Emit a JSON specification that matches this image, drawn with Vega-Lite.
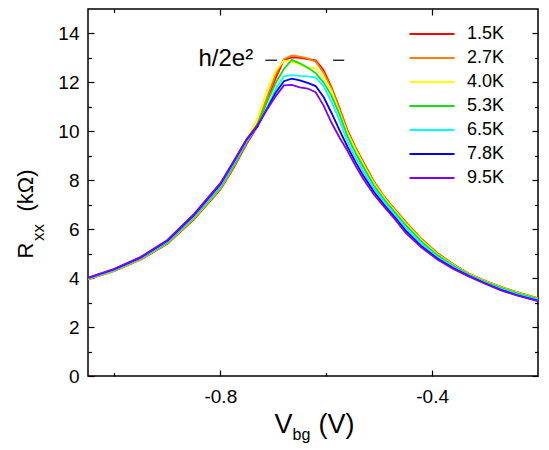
{
  "$schema": "https://vega.github.io/schema/vega-lite/v6.json",
  "width": 450,
  "height": 367,
  "autosize": {"type": "none"},
  "padding": {"left": 88, "top": 9, "right": 11, "bottom": 74},
  "background": "white",
  "data": {
    "values": [
      {"V": -1.05, "R": 3.95, "T": "1.5K"}, {"V": -1.0, "R": 4.30, "T": "1.5K"}, {"V": -0.95, "R": 4.76, "T": "1.5K"}, {"V": -0.9, "R": 5.40, "T": "1.5K"},
      {"V": -0.85, "R": 6.40, "T": "1.5K"}, {"V": -0.8, "R": 7.62, "T": "1.5K"}, {"V": -0.775, "R": 8.50, "T": "1.5K"}, {"V": -0.75, "R": 9.50, "T": "1.5K"},
      {"V": -0.73, "R": 10.20, "T": "1.5K"}, {"V": -0.71, "R": 11.35, "T": "1.5K"}, {"V": -0.695, "R": 12.20, "T": "1.5K"}, {"V": -0.68, "R": 12.92, "T": "1.5K"},
      {"V": -0.665, "R": 13.02, "T": "1.5K"}, {"V": -0.65, "R": 13.00, "T": "1.5K"}, {"V": -0.635, "R": 12.95, "T": "1.5K"}, {"V": -0.62, "R": 12.90, "T": "1.5K"},
      {"V": -0.605, "R": 12.50, "T": "1.5K"}, {"V": -0.59, "R": 11.80, "T": "1.5K"}, {"V": -0.575, "R": 10.95, "T": "1.5K"}, {"V": -0.56, "R": 10.05, "T": "1.5K"},
      {"V": -0.545, "R": 9.35, "T": "1.5K"}, {"V": -0.53, "R": 8.75, "T": "1.5K"}, {"V": -0.51, "R": 7.95, "T": "1.5K"}, {"V": -0.49, "R": 7.32, "T": "1.5K"},
      {"V": -0.47, "R": 6.80, "T": "1.5K"}, {"V": -0.45, "R": 6.30, "T": "1.5K"}, {"V": -0.42, "R": 5.60, "T": "1.5K"}, {"V": -0.39, "R": 5.02, "T": "1.5K"},
      {"V": -0.36, "R": 4.57, "T": "1.5K"}, {"V": -0.33, "R": 4.18, "T": "1.5K"}, {"V": -0.3, "R": 3.89, "T": "1.5K"}, {"V": -0.27, "R": 3.64, "T": "1.5K"},
      {"V": -0.24, "R": 3.43, "T": "1.5K"}, {"V": -0.2, "R": 3.18, "T": "1.5K"},

      {"V": -1.05, "R": 3.96, "T": "2.7K"}, {"V": -1.0, "R": 4.31, "T": "2.7K"}, {"V": -0.95, "R": 4.77, "T": "2.7K"}, {"V": -0.9, "R": 5.42, "T": "2.7K"},
      {"V": -0.85, "R": 6.42, "T": "2.7K"}, {"V": -0.8, "R": 7.65, "T": "2.7K"}, {"V": -0.775, "R": 8.53, "T": "2.7K"}, {"V": -0.75, "R": 9.55, "T": "2.7K"},
      {"V": -0.73, "R": 10.30, "T": "2.7K"}, {"V": -0.71, "R": 11.50, "T": "2.7K"}, {"V": -0.695, "R": 12.35, "T": "2.7K"}, {"V": -0.68, "R": 12.95, "T": "2.7K"},
      {"V": -0.665, "R": 13.10, "T": "2.7K"}, {"V": -0.65, "R": 13.05, "T": "2.7K"}, {"V": -0.635, "R": 12.98, "T": "2.7K"}, {"V": -0.62, "R": 12.85, "T": "2.7K"},
      {"V": -0.605, "R": 12.40, "T": "2.7K"}, {"V": -0.59, "R": 11.75, "T": "2.7K"}, {"V": -0.575, "R": 10.90, "T": "2.7K"}, {"V": -0.56, "R": 10.00, "T": "2.7K"},
      {"V": -0.545, "R": 9.32, "T": "2.7K"}, {"V": -0.53, "R": 8.72, "T": "2.7K"}, {"V": -0.51, "R": 7.93, "T": "2.7K"}, {"V": -0.49, "R": 7.30, "T": "2.7K"},
      {"V": -0.47, "R": 6.78, "T": "2.7K"}, {"V": -0.45, "R": 6.28, "T": "2.7K"}, {"V": -0.42, "R": 5.58, "T": "2.7K"}, {"V": -0.39, "R": 5.00, "T": "2.7K"},
      {"V": -0.36, "R": 4.56, "T": "2.7K"}, {"V": -0.33, "R": 4.17, "T": "2.7K"}, {"V": -0.3, "R": 3.88, "T": "2.7K"}, {"V": -0.27, "R": 3.63, "T": "2.7K"},
      {"V": -0.24, "R": 3.42, "T": "2.7K"}, {"V": -0.2, "R": 3.17, "T": "2.7K"},

      {"V": -1.05, "R": 3.97, "T": "4.0K"}, {"V": -1.0, "R": 4.32, "T": "4.0K"}, {"V": -0.95, "R": 4.79, "T": "4.0K"}, {"V": -0.9, "R": 5.45, "T": "4.0K"},
      {"V": -0.85, "R": 6.46, "T": "4.0K"}, {"V": -0.8, "R": 7.70, "T": "4.0K"}, {"V": -0.775, "R": 8.62, "T": "4.0K"}, {"V": -0.75, "R": 9.68, "T": "4.0K"},
      {"V": -0.73, "R": 10.55, "T": "4.0K"}, {"V": -0.71, "R": 11.80, "T": "4.0K"}, {"V": -0.695, "R": 12.50, "T": "4.0K"}, {"V": -0.68, "R": 12.88, "T": "4.0K"},
      {"V": -0.665, "R": 12.85, "T": "4.0K"}, {"V": -0.65, "R": 12.72, "T": "4.0K"}, {"V": -0.635, "R": 12.60, "T": "4.0K"}, {"V": -0.62, "R": 12.58, "T": "4.0K"},
      {"V": -0.605, "R": 12.20, "T": "4.0K"}, {"V": -0.59, "R": 11.65, "T": "4.0K"}, {"V": -0.575, "R": 10.78, "T": "4.0K"}, {"V": -0.56, "R": 9.92, "T": "4.0K"},
      {"V": -0.545, "R": 9.26, "T": "4.0K"}, {"V": -0.53, "R": 8.65, "T": "4.0K"}, {"V": -0.51, "R": 7.87, "T": "4.0K"}, {"V": -0.49, "R": 7.26, "T": "4.0K"},
      {"V": -0.47, "R": 6.74, "T": "4.0K"}, {"V": -0.45, "R": 6.23, "T": "4.0K"}, {"V": -0.42, "R": 5.55, "T": "4.0K"}, {"V": -0.39, "R": 4.97, "T": "4.0K"},
      {"V": -0.36, "R": 4.54, "T": "4.0K"}, {"V": -0.33, "R": 4.16, "T": "4.0K"}, {"V": -0.3, "R": 3.87, "T": "4.0K"}, {"V": -0.27, "R": 3.62, "T": "4.0K"},
      {"V": -0.24, "R": 3.41, "T": "4.0K"}, {"V": -0.2, "R": 3.16, "T": "4.0K"},

      {"V": -1.05, "R": 3.98, "T": "5.3K"}, {"V": -1.0, "R": 4.33, "T": "5.3K"}, {"V": -0.95, "R": 4.80, "T": "5.3K"}, {"V": -0.9, "R": 5.46, "T": "5.3K"},
      {"V": -0.85, "R": 6.48, "T": "5.3K"}, {"V": -0.8, "R": 7.72, "T": "5.3K"}, {"V": -0.775, "R": 8.60, "T": "5.3K"}, {"V": -0.75, "R": 9.58, "T": "5.3K"},
      {"V": -0.73, "R": 10.30, "T": "5.3K"}, {"V": -0.71, "R": 11.30, "T": "5.3K"}, {"V": -0.695, "R": 12.00, "T": "5.3K"}, {"V": -0.68, "R": 12.55, "T": "5.3K"},
      {"V": -0.665, "R": 12.92, "T": "5.3K"}, {"V": -0.65, "R": 12.78, "T": "5.3K"}, {"V": -0.635, "R": 12.60, "T": "5.3K"}, {"V": -0.62, "R": 12.38, "T": "5.3K"},
      {"V": -0.605, "R": 12.00, "T": "5.3K"}, {"V": -0.59, "R": 11.45, "T": "5.3K"}, {"V": -0.575, "R": 10.70, "T": "5.3K"}, {"V": -0.56, "R": 9.80, "T": "5.3K"},
      {"V": -0.545, "R": 9.13, "T": "5.3K"}, {"V": -0.53, "R": 8.54, "T": "5.3K"}, {"V": -0.51, "R": 7.79, "T": "5.3K"}, {"V": -0.49, "R": 7.19, "T": "5.3K"},
      {"V": -0.47, "R": 6.68, "T": "5.3K"}, {"V": -0.45, "R": 6.17, "T": "5.3K"}, {"V": -0.42, "R": 5.49, "T": "5.3K"}, {"V": -0.39, "R": 4.93, "T": "5.3K"},
      {"V": -0.36, "R": 4.51, "T": "5.3K"}, {"V": -0.33, "R": 4.14, "T": "5.3K"}, {"V": -0.3, "R": 3.85, "T": "5.3K"}, {"V": -0.27, "R": 3.60, "T": "5.3K"},
      {"V": -0.24, "R": 3.39, "T": "5.3K"}, {"V": -0.2, "R": 3.15, "T": "5.3K"},

      {"V": -1.05, "R": 3.99, "T": "6.5K"}, {"V": -1.0, "R": 4.35, "T": "6.5K"}, {"V": -0.95, "R": 4.82, "T": "6.5K"}, {"V": -0.9, "R": 5.50, "T": "6.5K"},
      {"V": -0.85, "R": 6.53, "T": "6.5K"}, {"V": -0.8, "R": 7.78, "T": "6.5K"}, {"V": -0.775, "R": 8.68, "T": "6.5K"}, {"V": -0.75, "R": 9.62, "T": "6.5K"},
      {"V": -0.73, "R": 10.20, "T": "6.5K"}, {"V": -0.71, "R": 11.05, "T": "6.5K"}, {"V": -0.695, "R": 11.75, "T": "6.5K"}, {"V": -0.68, "R": 12.25, "T": "6.5K"},
      {"V": -0.665, "R": 12.30, "T": "6.5K"}, {"V": -0.65, "R": 12.27, "T": "6.5K"}, {"V": -0.635, "R": 12.25, "T": "6.5K"}, {"V": -0.62, "R": 12.20, "T": "6.5K"},
      {"V": -0.605, "R": 11.85, "T": "6.5K"}, {"V": -0.59, "R": 11.20, "T": "6.5K"}, {"V": -0.575, "R": 10.45, "T": "6.5K"}, {"V": -0.56, "R": 9.58, "T": "6.5K"},
      {"V": -0.545, "R": 8.94, "T": "6.5K"}, {"V": -0.53, "R": 8.37, "T": "6.5K"}, {"V": -0.51, "R": 7.66, "T": "6.5K"}, {"V": -0.49, "R": 7.09, "T": "6.5K"},
      {"V": -0.47, "R": 6.58, "T": "6.5K"}, {"V": -0.45, "R": 6.05, "T": "6.5K"}, {"V": -0.42, "R": 5.40, "T": "6.5K"}, {"V": -0.39, "R": 4.86, "T": "6.5K"},
      {"V": -0.36, "R": 4.46, "T": "6.5K"}, {"V": -0.33, "R": 4.10, "T": "6.5K"}, {"V": -0.3, "R": 3.81, "T": "6.5K"}, {"V": -0.27, "R": 3.56, "T": "6.5K"},
      {"V": -0.24, "R": 3.34, "T": "6.5K"}, {"V": -0.2, "R": 3.12, "T": "6.5K"},

      {"V": -1.05, "R": 4.01, "T": "7.8K"}, {"V": -1.0, "R": 4.37, "T": "7.8K"}, {"V": -0.95, "R": 4.85, "T": "7.8K"}, {"V": -0.9, "R": 5.53, "T": "7.8K"},
      {"V": -0.85, "R": 6.58, "T": "7.8K"}, {"V": -0.8, "R": 7.84, "T": "7.8K"}, {"V": -0.775, "R": 8.74, "T": "7.8K"}, {"V": -0.75, "R": 9.67, "T": "7.8K"},
      {"V": -0.73, "R": 10.20, "T": "7.8K"}, {"V": -0.71, "R": 11.00, "T": "7.8K"}, {"V": -0.695, "R": 11.60, "T": "7.8K"}, {"V": -0.68, "R": 12.05, "T": "7.8K"},
      {"V": -0.665, "R": 12.15, "T": "7.8K"}, {"V": -0.65, "R": 12.08, "T": "7.8K"}, {"V": -0.635, "R": 11.98, "T": "7.8K"}, {"V": -0.62, "R": 11.85, "T": "7.8K"},
      {"V": -0.605, "R": 11.40, "T": "7.8K"}, {"V": -0.59, "R": 10.75, "T": "7.8K"}, {"V": -0.575, "R": 10.05, "T": "7.8K"}, {"V": -0.56, "R": 9.37, "T": "7.8K"},
      {"V": -0.545, "R": 8.75, "T": "7.8K"}, {"V": -0.53, "R": 8.19, "T": "7.8K"}, {"V": -0.51, "R": 7.53, "T": "7.8K"}, {"V": -0.49, "R": 6.98, "T": "7.8K"},
      {"V": -0.47, "R": 6.48, "T": "7.8K"}, {"V": -0.45, "R": 5.94, "T": "7.8K"}, {"V": -0.42, "R": 5.30, "T": "7.8K"}, {"V": -0.39, "R": 4.80, "T": "7.8K"},
      {"V": -0.36, "R": 4.41, "T": "7.8K"}, {"V": -0.33, "R": 4.08, "T": "7.8K"}, {"V": -0.3, "R": 3.79, "T": "7.8K"}, {"V": -0.27, "R": 3.52, "T": "7.8K"},
      {"V": -0.24, "R": 3.31, "T": "7.8K"}, {"V": -0.2, "R": 3.08, "T": "7.8K"},

      {"V": -1.05, "R": 4.02, "T": "9.5K"}, {"V": -1.0, "R": 4.38, "T": "9.5K"}, {"V": -0.95, "R": 4.87, "T": "9.5K"}, {"V": -0.9, "R": 5.56, "T": "9.5K"},
      {"V": -0.85, "R": 6.62, "T": "9.5K"}, {"V": -0.8, "R": 7.88, "T": "9.5K"}, {"V": -0.775, "R": 8.78, "T": "9.5K"}, {"V": -0.75, "R": 9.70, "T": "9.5K"},
      {"V": -0.73, "R": 10.25, "T": "9.5K"}, {"V": -0.71, "R": 10.95, "T": "9.5K"}, {"V": -0.695, "R": 11.45, "T": "9.5K"}, {"V": -0.68, "R": 11.88, "T": "9.5K"},
      {"V": -0.665, "R": 11.90, "T": "9.5K"}, {"V": -0.65, "R": 11.80, "T": "9.5K"}, {"V": -0.635, "R": 11.75, "T": "9.5K"}, {"V": -0.62, "R": 11.60, "T": "9.5K"},
      {"V": -0.605, "R": 11.05, "T": "9.5K"}, {"V": -0.59, "R": 10.35, "T": "9.5K"}, {"V": -0.575, "R": 9.75, "T": "9.5K"}, {"V": -0.56, "R": 9.20, "T": "9.5K"},
      {"V": -0.545, "R": 8.60, "T": "9.5K"}, {"V": -0.53, "R": 8.05, "T": "9.5K"}, {"V": -0.51, "R": 7.42, "T": "9.5K"}, {"V": -0.49, "R": 6.90, "T": "9.5K"},
      {"V": -0.47, "R": 6.40, "T": "9.5K"}, {"V": -0.45, "R": 5.85, "T": "9.5K"}, {"V": -0.42, "R": 5.25, "T": "9.5K"}, {"V": -0.39, "R": 4.76, "T": "9.5K"},
      {"V": -0.36, "R": 4.38, "T": "9.5K"}, {"V": -0.33, "R": 4.06, "T": "9.5K"}, {"V": -0.3, "R": 3.77, "T": "9.5K"}, {"V": -0.27, "R": 3.50, "T": "9.5K"},
      {"V": -0.24, "R": 3.29, "T": "9.5K"}, {"V": -0.2, "R": 3.06, "T": "9.5K"}
    ]
  },
  "layer": [
    {
      "mark": {"type": "line", "strokeWidth": 1.8, "clip": true},
      "encoding": {
        "x": {
          "field": "V",
          "type": "quantitative",
          "scale": {"domain": [-1.05, -0.2], "nice": false, "zero": false},
          "axis": {
            "orient": "bottom",
            "values": [-0.8, -0.4],
            "tickSize": -6,
            "labelPadding": 17,
            "labelExpr": "replace(format(datum.value, '.1f'), '\u2212', '-')",
            "title": "V",
            "titleX": 195,
            "titleY": 56,
            "titleBaseline": "alphabetic",
            "titleFontSize": 27
          }
        },
        "y": {
          "field": "R",
          "type": "quantitative",
          "scale": {"domain": [0, 15], "nice": false},
          "axis": {
            "orient": "left",
            "values": [0, 2, 4, 6, 8, 10, 12, 14],
            "tickSize": -6,
            "labelPadding": 15,
            "title": "R",
            "titleX": -56,
            "titleY": 241,
            "titleAngle": 270,
            "titleBaseline": "alphabetic",
            "titleFontSize": 22
          }
        },
        "color": {
          "field": "T",
          "type": "nominal",
          "scale": {
            "domain": ["1.5K", "2.7K", "4.0K", "5.3K", "6.5K", "7.8K", "9.5K"],
            "range": ["#ff0000", "#ff8000", "#ffff00", "#10e010", "#00ffff", "#0000ff", "#8000ff"]
          },
          "legend": {
            "orient": "none",
            "legendX": 335,
            "legendY": 16,
            "title": null,
            "padding": 0,
            "symbolType": "M-4.5,0H4.5",
            "symbolSize": 100,
            "symbolStrokeWidth": 2,
            "labelFontSize": 18,
            "labelOffset": 26,
            "rowPadding": 6
          }
        }
      }
    },
    {
      "data": {"values": [{"level": "h/2e²"}]},
      "mark": {"type": "rule", "strokeWidth": 1.2, "color": "black"},
      "encoding": {
        "x": {
          "datum": -0.715,
          "type": "quantitative",
          "scale": {"domain": [-1.05, -0.2], "nice": false, "zero": false},
          "axis": {
            "orient": "top",
            "values": [-0.8, -0.4],
            "tickSize": -6,
            "labels": false,
            "title": "(V)",
            "titleX": 248,
            "titleY": 423,
            "titleBaseline": "alphabetic",
            "titleFontSize": 27
          }
        },
        "x2": {"datum": -0.693},
        "y": {
          "datum": 12.906,
          "type": "quantitative",
          "scale": {"domain": [0, 15], "nice": false},
          "axis": {
            "orient": "right",
            "values": [0, 2, 4, 6, 8, 10, 12, 14],
            "tickSize": -6,
            "labels": false,
            "title": "(kΩ)",
            "titleX": -506,
            "titleY": 181,
            "titleAngle": 270,
            "titleBaseline": "alphabetic",
            "titleFontSize": 22
          }
        }
      }
    },
    {
      "data": {"values": [{"level": "h/2e²"}]},
      "mark": {"type": "rule", "strokeWidth": 1.2, "color": "black"},
      "encoding": {
        "x": {
          "datum": -0.587,
          "type": "quantitative",
          "scale": {"domain": [-1.05, -0.2], "nice": false, "zero": false},
          "axis": {"orient": "top", "values": [-1.0, -0.6], "tickSize": -3.5, "labels": false, "title": null}
        },
        "x2": {"datum": -0.566},
        "y": {
          "datum": 12.906,
          "type": "quantitative",
          "scale": {"domain": [0, 15], "nice": false},
          "axis": {"orient": "right", "values": [1, 3, 5, 7, 9, 11, 13], "tickSize": -3.5, "labels": false, "title": null}
        }
      }
    },
    {
      "data": {"values": [{"level": "h/2e²"}]},
      "mark": {"type": "text", "align": "right", "baseline": "alphabetic", "fontSize": 24, "fontWeight": "normal", "fill": "black", "dy": 6},
      "encoding": {
        "x": {
          "datum": -0.738,
          "type": "quantitative",
          "scale": {"domain": [-1.05, -0.2], "nice": false, "zero": false},
          "axis": {
            "orient": "bottom",
            "values": [-1.0, -0.6],
            "tickSize": -3.5,
            "labels": false,
            "title": "bg",
            "titleX": 213,
            "titleY": 63,
            "titleBaseline": "alphabetic",
            "titleFontSize": 16
          }
        },
        "y": {
          "datum": 12.906,
          "type": "quantitative",
          "scale": {"domain": [0, 15], "nice": false},
          "axis": {
            "orient": "left",
            "values": [1, 3, 5, 7, 9, 11, 13],
            "tickSize": -3.5,
            "labels": false,
            "title": "xx",
            "titleX": -45,
            "titleY": 223,
            "titleAngle": 270,
            "titleBaseline": "alphabetic",
            "titleFontSize": 17
          }
        },
        "text": {"field": "level"}
      }
    }
  ],
  "resolve": {"axis": {"x": "independent", "y": "independent"}},
  "config": {
    "font": "Liberation Sans",
    "view": {"stroke": "black", "strokeWidth": 1.5},
    "axis": {
      "domain": false,
      "grid": false,
      "tickColor": "black",
      "tickWidth": 1.2,
      "labelColor": "black",
      "labelFontSize": 19,
      "titleColor": "black",
      "titleFontWeight": "normal"
    },
    "legend": {"labelColor": "black"}
  }
}
